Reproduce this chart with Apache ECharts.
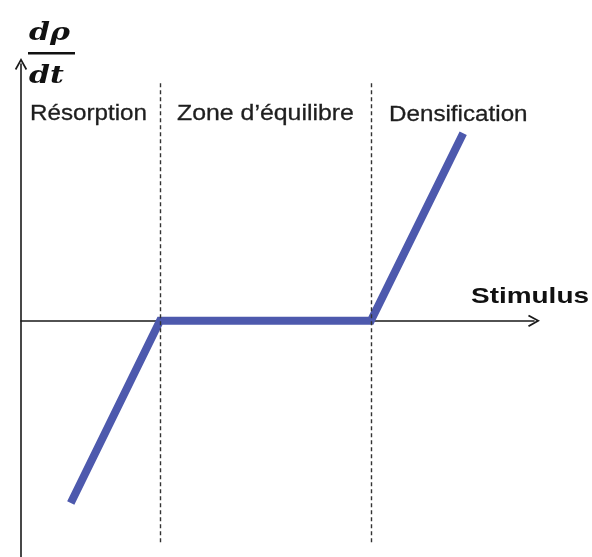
<!DOCTYPE html>
<html>
<head>
<meta charset="utf-8">
<script src="https://cdn.jsdelivr.net/npm/echarts@6/dist/echarts.min.js"></script>
<style>
  html, body { margin: 0; padding: 0; background: #fff; }
  #chart { width: 592px; height: 557px; }
</style>
</head>
<body>
<div id="chart"></div>
<script>
// stimulus / dρ/dt curve (arbitrary units)
const stimulus = [0.97, 2.71, 6.82, 8.62];
const rate = [-7.1, 0, 0, 7.3];
// zone borders
const zoneBorders = [2.71, 6.82];
const zoneNames = ['Résorption', 'Zone d’équilibre', 'Densification'];

const chart = echarts.init(document.getElementById('chart'));

const lineData = stimulus.map((x, i) => [x, rate[i]]);

// open chevron pointing up
const chevron = 'path://M7,0 L14,12.6 L12.3,13.7 L7,4 L1.7,13.7 L0,12.6 Z';

const axisLine = {
    show: true,
    symbol: ['none', chevron],
    symbolSize: [14, 12],
    lineStyle: { color: '#1a1a1a', width: 1.6 }
};

const labelStyle = (text) => ({
    text: text,
    fontFamily: 'Liberation Sans, Arial',
    fontSize: 22,
    fill: '#1e1e1e',
    stroke: '#1e1e1e',
    lineWidth: 0.3,
    verticalAlign: 'middle'
});

const option = {
    animation: false,
    backgroundColor: '#fff',
    grid: { left: 21, right: 58, top: 64, bottom: 0 },
    xAxis: {
        type: 'value',
        min: 0,
        max: 10,
        axisLine: axisLine,
        axisTick: { show: false },
        axisLabel: { show: false },
        splitLine: { show: false }
    },
    yAxis: {
        type: 'value',
        min: -9.2,
        max: 10,
        axisLine: axisLine,
        axisTick: { show: false },
        axisLabel: { show: false },
        splitLine: { show: false }
    },
    series: [{
        type: 'line',
        data: lineData,
        showSymbol: false,
        lineStyle: { color: '#4d59ad', width: 8, cap: 'butt', join: 'miter' },
        z: 3,
        markLine: {
            silent: true,
            symbol: 'none',
            label: { show: false },
            lineStyle: { color: '#333', width: 1.4, type: [4, 3] },
            data: zoneBorders.map(x => [{ coord: [x, 9.25] }, { coord: [x, -8.7] }])
        }
    }],
    graphic: [
        { type: 'text', x: 30, y: 114, scaleX: 1.1, style: labelStyle(zoneNames[0]) },
        { type: 'text', x: 177, y: 114, scaleX: 1.13, style: labelStyle(zoneNames[1]) },
        { type: 'text', x: 389, y: 115, scaleX: 1.1, style: labelStyle(zoneNames[2]) },
        { type: 'text', x: 471, y: 297, scaleX: 1.27, style: { text: 'Stimulus', fontFamily: 'Liberation Sans, Arial', fontWeight: 'bold', fontSize: 22, fill: '#111', verticalAlign: 'middle' } },
        { type: 'text', x: 29, y: 33, scaleX: 1.2, style: { text: 'dρ', fontFamily: 'DejaVu Serif', fontWeight: 'bold', fontStyle: 'italic', fontSize: 25, fill: '#111', verticalAlign: 'middle' } },
        { type: 'rect', shape: { x: 28, y: 52, width: 47, height: 2.5 }, style: { fill: '#111' } },
        { type: 'text', x: 29, y: 76, scaleX: 1.2, style: { text: 'dt', fontFamily: 'DejaVu Serif', fontWeight: 'bold', fontStyle: 'italic', fontSize: 25, fill: '#111', verticalAlign: 'middle' } }
    ]
};

chart.setOption(option);
</script>
</body>
</html>
